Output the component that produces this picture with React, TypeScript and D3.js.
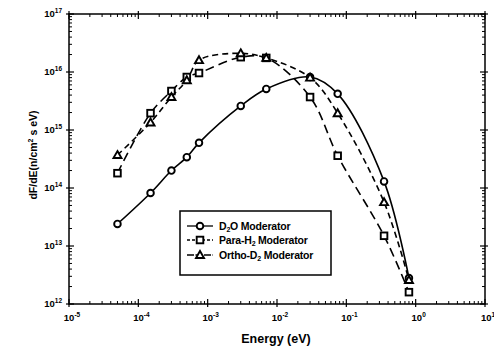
import React from "react";
import * as d3 from "d3";

const energy = [5e-5, 1.5e-4, 3e-4, 5e-4, 7.5e-4, 3e-3, 7e-3, 0.03, 0.075, 0.35, 0.8];
const d2o = [2.4e13, 8.2e13, 2.0e14, 3.4e14, 6.0e14, 2.6e15, 5.1e15, 8.2e15, 4.2e15, 1.3e14, 2.8e12];
const paraH2 = [1.8e14, 1.95e15, 4.7e15, 8.2e15, 9.6e15, 1.8e16, 1.75e16, 3.7e15, 3.6e14, 1.5e13, 1.6e12];
const orthoD2 = [3.7e14, 1.35e15, 3.7e15, 7.2e15, 1.6e16, 2.1e16, 1.75e16, 8.0e15, 1.95e15, 5.7e13, 2.6e12];
const xTickExps = [-5, -4, -3, -2, -1, 0, 1];
const yTickExps = [12, 13, 14, 15, 16, 17];

const W = 494, H = 350;
const L = 69, R = 485, T = 14, B = 304;
const FONT = "'Liberation Sans', Arial, sans-serif";

export default function App() {
  const x = d3.scaleLog().domain([1e-5, 10]).range([L, R]);
  const y = d3.scaleLog().domain([1e12, 1e17]).range([B, T]);

  const series = [
    { name: "D2O", vals: d2o, dash: "none", marker: "circle" },
    { name: "Para", vals: paraH2, dash: "9,5", marker: "square" },
    { name: "Ortho", vals: orthoD2, dash: "6,4", marker: "triangle" },
  ];

  const line = d3
    .line<[number, number]>()
    .x((d) => x(d[0]))
    .y((d) => y(d[1]))
    .curve(d3.curveCatmullRom.alpha(0.5));

  const marker = (type: string, cx: number, cy: number, key: string) => {
    const sw = 1.9;
    if (type === "circle")
      return <circle key={key} cx={cx} cy={cy} r={3.3} fill="#fff" stroke="#000" strokeWidth={sw} />;
    if (type === "square")
      return <rect key={key} x={cx - 3.3} y={cy - 3.3} width={6.6} height={6.6} fill="#fff" stroke="#000" strokeWidth={sw} />;
    const s = 4;
    return (
      <path
        key={key}
        d={`M${cx},${cy - s}L${cx + s},${cy + s * 0.75}L${cx - s},${cy + s * 0.75}Z`}
        fill="#fff"
        stroke="#000"
        strokeWidth={sw}
      />
    );
  };

  const xMinor: number[] = [];
  for (let e = -5; e < 1; e++) for (let m = 2; m <= 9; m++) xMinor.push(m * Math.pow(10, e));
  const yMinor: number[] = [];
  for (let e = 12; e < 17; e++) for (let m = 2; m <= 9; m++) yMinor.push(m * Math.pow(10, e));

  const legendRows = [
    { label: ["D", "2", "O Moderator"], dash: "none", marker: "circle", yy: 226 },
    { label: ["Para-H", "2", " Moderator"], dash: "3,2", marker: "square", yy: 240 },
    { label: ["Ortho-D", "2", " Moderator"], dash: "7,1.5", marker: "triangle", yy: 255 },
  ];

  return (
    <svg width={W} height={H} style={{ position: "absolute", left: 0, top: 0, background: "#fff" }} fontFamily={FONT}>
      <rect x={0} y={0} width={W} height={H} fill="#fff" />
      {series.map((s) => (
        <path
          key={s.name}
          d={line(energy.map((e, i) => [e, s.vals[i]] as [number, number])) || ""}
          fill="none"
          stroke="#000"
          strokeWidth={1.6}
          strokeDasharray={s.dash}
        />
      ))}
      {series.map((s) => energy.map((e, i) => marker(s.marker, x(e), y(s.vals[i]), s.name + i)))}

      <rect x={L} y={T} width={R - L} height={B - T} fill="none" stroke="#000" strokeWidth={1.5} />
      {xMinor.map((v, i) => (
        <g key={"xm" + i}>
          <line x1={x(v)} x2={x(v)} y1={B} y2={B - 3} stroke="#000" strokeWidth={1} />
          <line x1={x(v)} x2={x(v)} y1={T} y2={T + 3} stroke="#000" strokeWidth={1} />
        </g>
      ))}
      {xTickExps.map((e) => (
        <g key={"xt" + e}>
          <line x1={x(Math.pow(10, e))} x2={x(Math.pow(10, e))} y1={B + 3} y2={B - 5} stroke="#000" strokeWidth={1.2} />
          <line x1={x(Math.pow(10, e))} x2={x(Math.pow(10, e))} y1={T - 3} y2={T + 5} stroke="#000" strokeWidth={1.2} />
          <text x={x(Math.pow(10, e)) + 3} y={B + 17} fontSize={9.5} fontWeight="bold" textAnchor="middle">
            10<tspan dy={-4} fontSize={6.5}>{e}</tspan>
          </text>
        </g>
      ))}
      {yMinor.map((v, i) => (
        <g key={"ym" + i}>
          <line x1={L} x2={L + 3} y1={y(v)} y2={y(v)} stroke="#000" strokeWidth={1} />
          <line x1={R} x2={R - 3} y1={y(v)} y2={y(v)} stroke="#000" strokeWidth={1} />
        </g>
      ))}
      {yTickExps.map((e) => (
        <g key={"yt" + e}>
          <line x1={L - 3} x2={L + 5} y1={y(Math.pow(10, e))} y2={y(Math.pow(10, e))} stroke="#000" strokeWidth={1.2} />
          <line x1={R + 3} x2={R - 5} y1={y(Math.pow(10, e))} y2={y(Math.pow(10, e))} stroke="#000" strokeWidth={1.2} />
          <text x={L - 7} y={y(Math.pow(10, e)) + 3} fontSize={9.5} fontWeight="bold" textAnchor="end">
            10<tspan dy={-4} fontSize={6.5}>{e}</tspan>
          </text>
        </g>
      ))}

      <text x={276} y={343} fontSize={12.5} fontWeight="bold" textAnchor="middle">
        Energy (eV)
      </text>
      <text transform={`translate(37,155) rotate(-90)`} fontSize={10.5} fontWeight="bold" textAnchor="middle">
        dF/dE(n/cm<tspan dy={-4} fontSize={7}>2</tspan>
        <tspan dy={4}> s eV)</tspan>
      </text>

      <rect x={180} y={211} width={151} height={64} fill="#fff" stroke="#000" strokeWidth={1.5} />
      {legendRows.map((r, i) => (
        <g key={"lg" + i}>
          <line x1={187} x2={213} y1={r.yy} y2={r.yy} stroke="#000" strokeWidth={1.3} strokeDasharray={r.dash} />
          {marker(r.marker, 200, r.yy, "lm" + i)}
          <text x={219} y={r.yy + 3.5} fontSize={10.5} fontWeight="bold" letterSpacing={-0.2}>
            {r.label[0]}
            <tspan dy={2.5} fontSize={7}>{r.label[1]}</tspan>
            <tspan dy={-2.5}>{r.label[2]}</tspan>
          </text>
        </g>
      ))}
    </svg>
  );
}
